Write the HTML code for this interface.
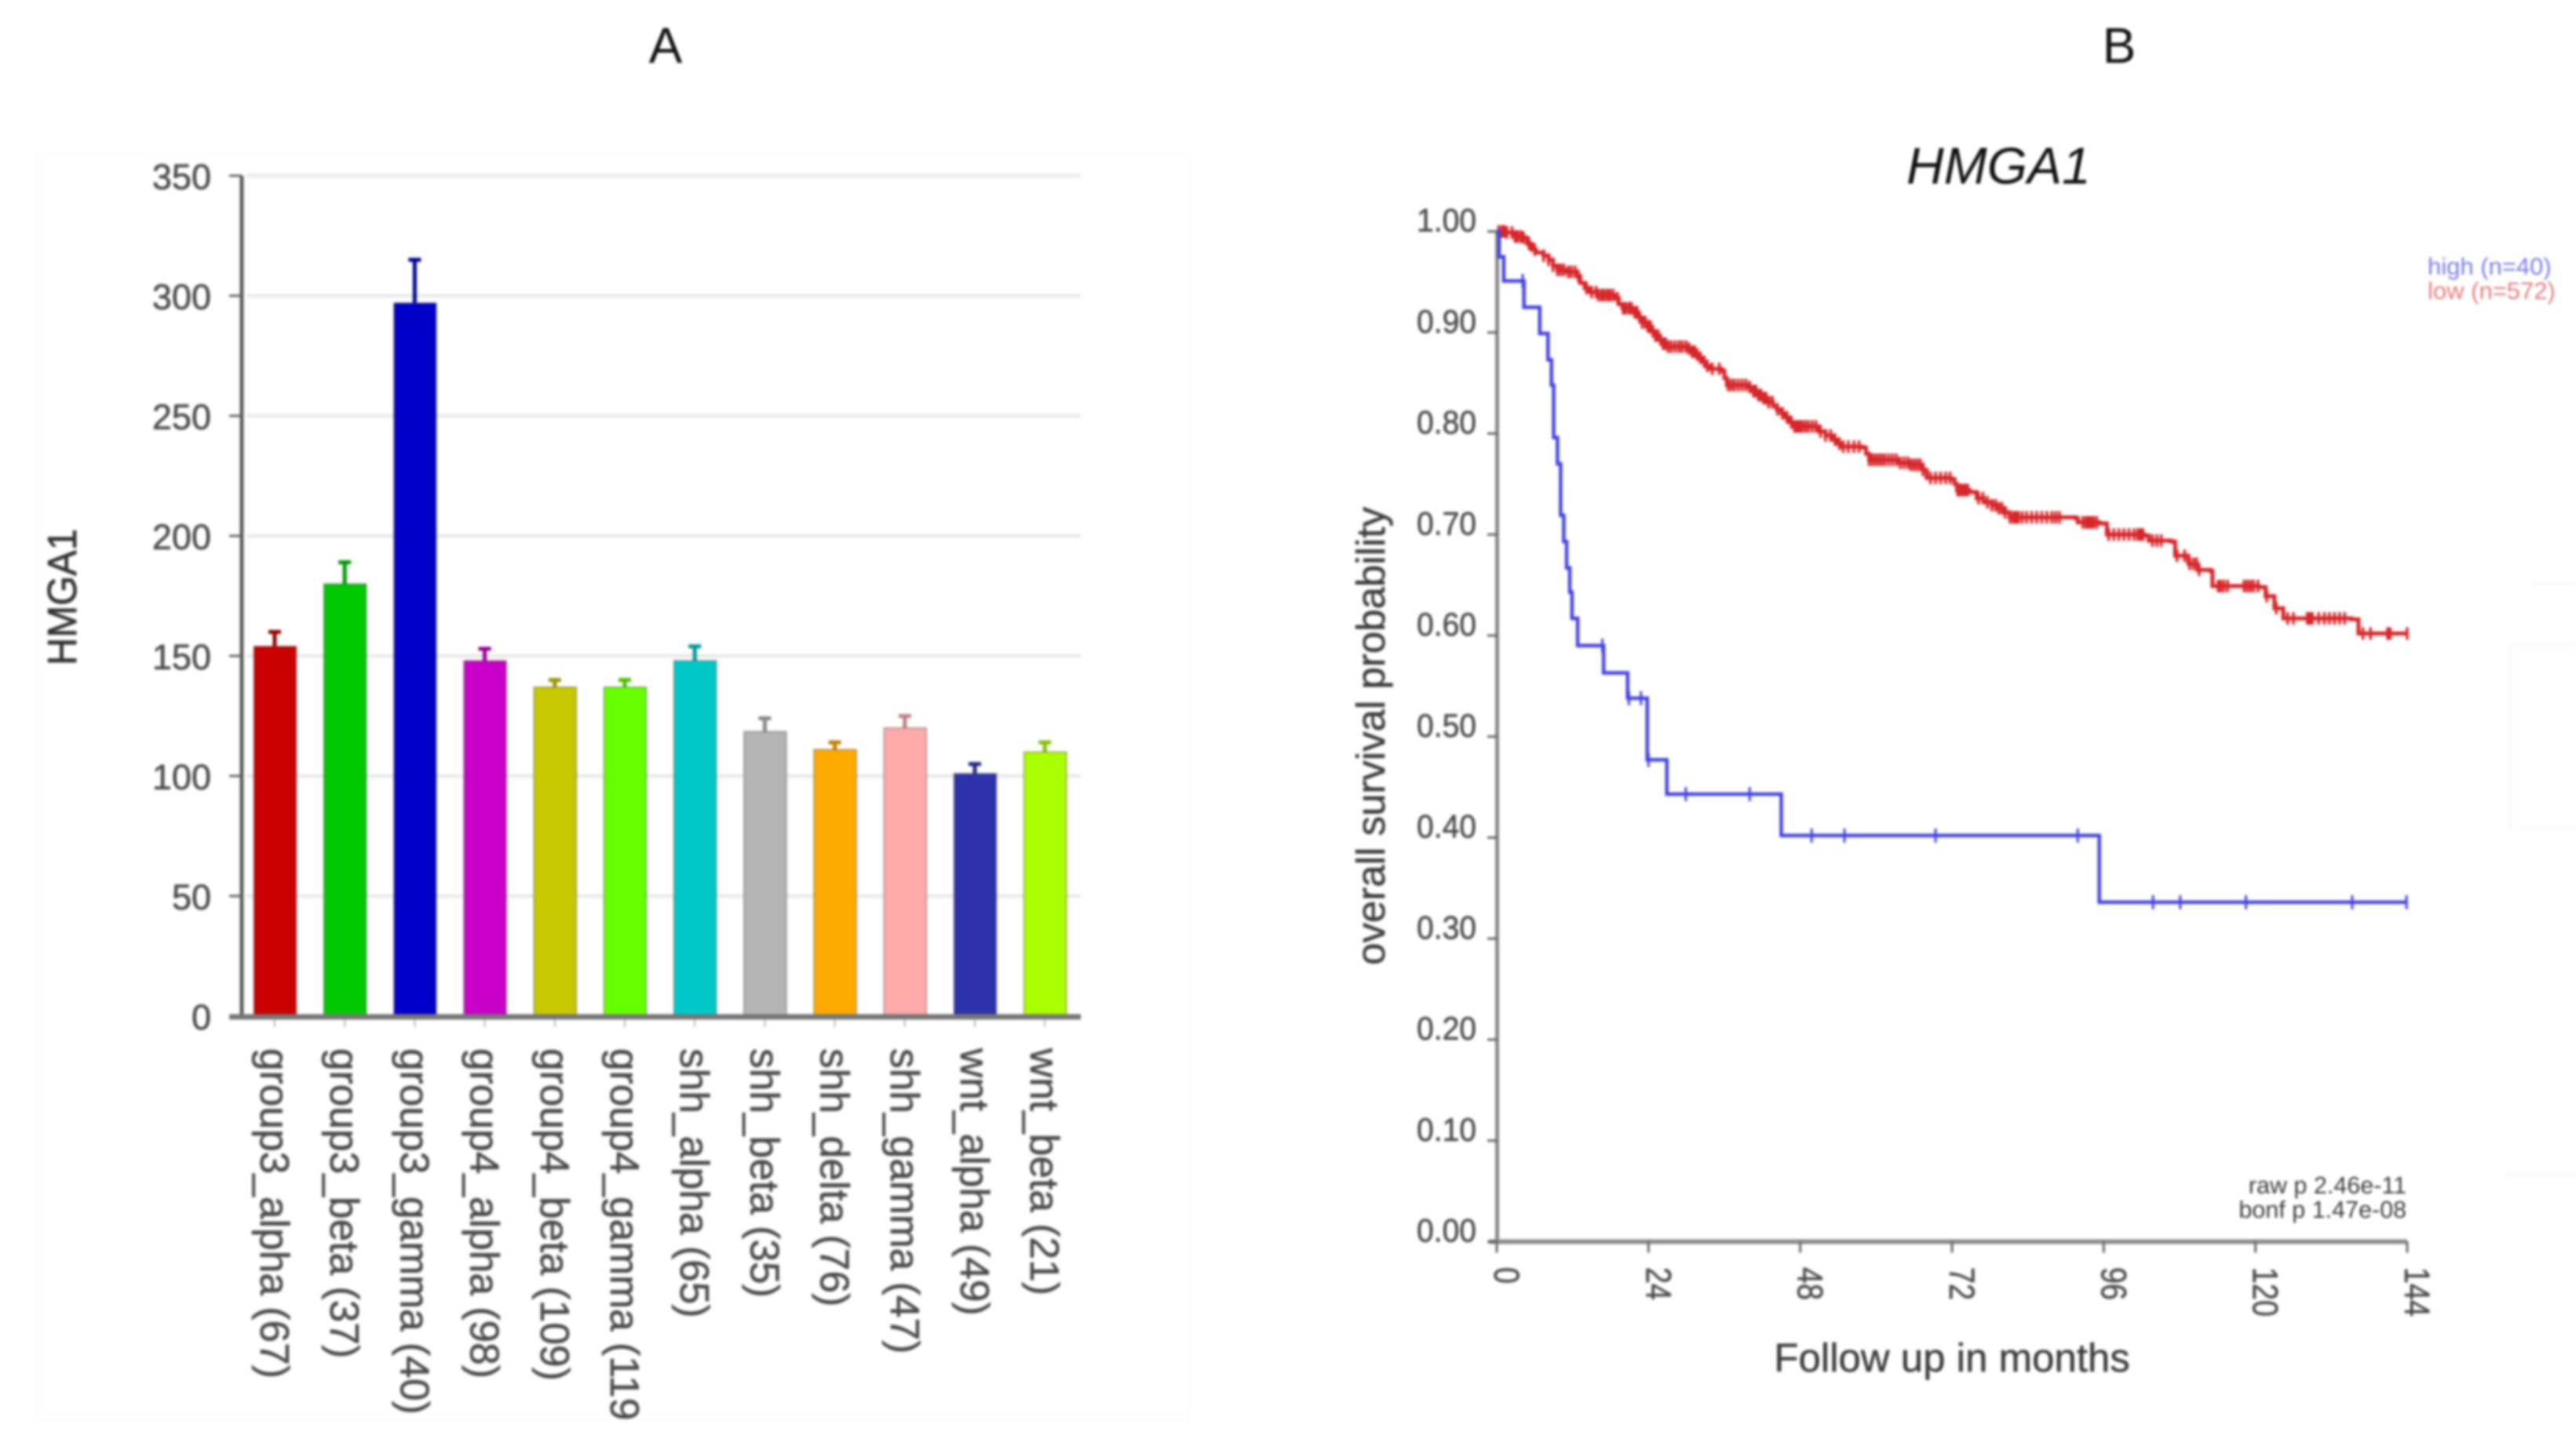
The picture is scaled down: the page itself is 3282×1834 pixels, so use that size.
<!DOCTYPE html>
<html>
<head>
<meta charset="utf-8">
<title>HMGA1 expression and survival</title>
<style>
html,body{margin:0;padding:0;background:#fff;}
#figure{display:block;width:3282px;height:1834px;filter:blur(1.6px);font-family:"Liberation Sans",sans-serif;}
</style>
</head>
<body>
<svg id="figure" xmlns="http://www.w3.org/2000/svg" width="3282" height="1834" viewBox="0 0 3282 1834">
  <rect x="0" y="0" width="3282" height="1834" fill="#ffffff"/>
  <rect x="47" y="196" width="1468" height="1613" fill="#ffffff" stroke="#fafafa" stroke-width="2"/>
  <text x="848" y="80" font-size="64" fill="#111" text-anchor="middle">A</text>
  <text x="2700" y="80" font-size="64" fill="#111" text-anchor="middle">B</text>
  <text x="2429" y="234" font-size="66" font-style="italic" fill="#111">HMGA1</text>
  <text transform="translate(97,761) rotate(-90)" font-size="52" fill="#333" stroke="#333" stroke-width="0.8" text-anchor="middle" textLength="174" lengthAdjust="spacingAndGlyphs">HMGA1</text>
  <text transform="translate(1764,938) rotate(-90)" font-size="51" fill="#3c3c3c" stroke="#3c3c3c" stroke-width="0.5" text-anchor="middle">overall survival probability</text>
  <text x="2487" y="1748" font-size="51" fill="#3c3c3c" stroke="#3c3c3c" stroke-width="0.5" text-anchor="middle">Follow up in months</text>
  <text x="3093" y="350" font-size="31" fill="#7a7ae6">high (n=40)</text>
  <text x="3093" y="381" font-size="31" fill="#e67a7a">low (n=572)</text>
  <text x="3066" y="1521" font-size="30.5" fill="#3c3c3c" text-anchor="end">raw p 2.46e-11</text>
  <text x="3066" y="1552" font-size="30.5" fill="#3c3c3c" text-anchor="end">bonf p 1.47e-08</text>
  <path d="M3282 822H3198V1057H3282" fill="none" stroke="#f7f7f7" stroke-width="2"/>
  <path d="M3228 744H3282" fill="none" stroke="#f4f4f4" stroke-width="2"/>
  <path d="M3190 1497H3282" fill="none" stroke="#f4f4f4" stroke-width="2"/>
  <g id="bar-chart"></g>
  <g id="survival-chart"></g>
</svg>
<script>
// Bar chart data
var barCategories = ["group3_alpha (67)","group3_beta (37)","group3_gamma (40)","group4_alpha (98)","group4_beta (109)","group4_gamma (119","shh_alpha (65)","shh_beta (35)","shh_delta (76)","shh_gamma (47)","wnt_alpha (49)","wnt_beta (21)"];
var barValues = [154,180,297,148,137,137,148,118.5,111,120,101,110];
var barErrorTops = [160,189,315,153,140,140,154,124,114,125,105,114];
var barColors = ["#c80000","#00c800","#0000c8","#c800c8","#c8c800","#66ff00","#00c8c8","#b4b4b4","#ffaa00","#ffaaaa","#2d32aa","#aaff00"];
var barYTicks = [0,50,100,150,200,250,300,350];

// Survival chart data
var survXTicks = [0,24,48,72,96,120,144];
var survYTicks = [0,0.1,0.2,0.3,0.4,0.5,0.6,0.7,0.8,0.9,1];
var highMonths = [0,0.37,1.1,4.3,6.8,8.1,8.65,9.0,9.6,10.1,10.6,11.05,11.55,11.9,12.8,16.9,20.7,23.8,26.9,45,95.3];
var highSurvival = [1,0.975,0.951,0.925,0.899,0.873,0.848,0.796,0.770,0.719,0.693,0.667,0.643,0.617,0.590,0.563,0.538,0.477,0.443,0.402,0.336];
var highCensorMonths = [4.1,16.7,20.9,22.8,24,29.9,40,49.8,55,69.4,91.9,103.8,108.1,118.5,135.3,143.9];
var lowMonths = [0,1.5,2.5,4.2,4.8,5.5,6.2,7.4,8.2,8.9,9.6,11,12.6,13.2,13.9,14.5,16,18.6,19.3,19.9,21.8,22.4,23,23.7,24.4,25,25.6,26.3,26.9,30,30.7,31.4,32,32.6,33.2,33.8,35.6,36,36.4,39.9,40.5,41.2,42.1,43,43.7,44.3,45,45.7,46.4,47.1,51,52,53,53.9,54.7,57.9,58.4,58.9,63.6,65.4,67.4,68,71.8,72.4,72.8,74.8,75.9,77,78.3,79.3,80.4,81.1,91.6,91.9,95.4,96.5,102.4,103.1,106.6,107.3,109.4,110.8,112.9,113.2,120.5,121.6,123,124.4,135.2,136.3];
var lowSurvival = [1,0.999,0.995,0.994,0.988,0.982,0.979,0.976,0.972,0.966,0.962,0.96,0.956,0.949,0.944,0.94,0.937,0.934,0.928,0.924,0.92,0.915,0.91,0.906,0.901,0.897,0.893,0.889,0.886,0.884,0.881,0.878,0.875,0.871,0.867,0.864,0.862,0.855,0.848,0.846,0.842,0.838,0.835,0.831,0.827,0.824,0.82,0.816,0.811,0.807,0.802,0.798,0.794,0.79,0.787,0.786,0.78,0.774,0.771,0.769,0.764,0.756,0.755,0.75,0.744,0.742,0.736,0.732,0.729,0.726,0.722,0.717,0.716,0.712,0.711,0.7,0.699,0.694,0.693,0.679,0.671,0.665,0.664,0.649,0.648,0.639,0.627,0.617,0.616,0.602];
var lowCensorMonths = [0.3,0.8,1.2,1.6,2.4,2.9,3.3,3.8,4.2,5.1,6,7.4,8.2,8.9,9.6,10.1,10.6,11.3,11.8,12.4,12.9,14.2,15,15.7,16.1,16.6,17,17.5,17.9,18.4,19.1,20,20.4,20.9,21.3,21.8,22.2,22.6,23,23.5,23.9,24.3,24.7,25.1,25.5,25.9,26.3,26.7,27.1,27.6,28.2,28.8,29.3,29.9,30.4,30.9,31.3,31.7,32.2,32.8,33.3,34.1,35.2,36.6,37.1,37.6,38.2,38.8,39.4,40,40.6,41,41.4,41.8,42.2,42.6,43,43.6,44.4,45.2,45.9,46.6,47.1,47.5,47.9,48.3,48.8,49.3,49.9,50.5,51.2,52,52.8,53.5,54.2,54.8,55.6,56.5,57.3,58.9,59.4,59.9,60.4,60.9,61.4,62,62.6,63.2,63.8,64.4,65,65.5,66,66.5,67,67.4,68.6,69.4,70.2,71,71.7,72.9,73.3,73.7,74.1,74.5,76.2,76.9,77.6,78.3,78.9,79.4,79.9,80.4,81.2,81.7,82.1,82.5,83.1,83.8,84.6,85.4,86.2,87,87.8,88.4,89,92.7,93.2,93.6,94,94.4,94.9,96.8,97.6,98.4,99.2,100,100.8,101.4,101.8,102.2,103.7,104.4,105.1,107.6,108.8,109.6,110.2,110.7,111.1,114.1,114.5,115,115.6,118.2,118.7,119.2,119.7,120.4,121.8,123.3,125.1,126,128.2,128.6,129,130,130.9,131.7,132.5,133.3,134.1,137,138.2,140.9,141.3,144];

var SVGNS = "http://www.w3.org/2000/svg";
function xBar(i){ return 350 + 89.2 * i; }
function yBar(v){ return 1295 - v * 3.06; }
function xSurv(m){ return 1907 + 8.055 * m; }
function ySurv(s){ return 1582.5 - s * 1287.5; }
function levelAt(months, levels, m){
  var r = levels[0];
  for (var i = 0; i < months.length; i++){ if (months[i] <= m) r = levels[i]; }
  return r;
}
function stepPath(months, levels, end){
  var d = "M" + xSurv(months[0]) + " " + ySurv(levels[0]);
  for (var i = 1; i < months.length; i++){
    d += "H" + xSurv(months[i]) + "V" + ySurv(levels[i]);
  }
  return d + "H" + xSurv(end);
}
function line(parent, x1, y1, x2, y2, color, width){
  var el = document.createElementNS(SVGNS, "line");
  el.setAttribute("x1", x1); el.setAttribute("y1", y1);
  el.setAttribute("x2", x2); el.setAttribute("y2", y2);
  el.setAttribute("stroke", color); el.setAttribute("stroke-width", width);
  parent.appendChild(el);
  return el;
}
function label(parent, str, size, color, anchor, transform){
  var el = document.createElementNS(SVGNS, "text");
  el.textContent = str;
  el.setAttribute("font-size", size);
  el.setAttribute("fill", color);
  el.setAttribute("stroke", color);
  el.setAttribute("stroke-width", 0.6);
  el.setAttribute("text-anchor", anchor);
  el.setAttribute("transform", transform);
  parent.appendChild(el);
  return el;
}

var barRoot = document.getElementById("bar-chart");
barYTicks.forEach(function(v){
  var y = yBar(v);
  if (v > 0) {
    var grid = line(barRoot, 314, y, 1377, y, "#ebebeb", 5);
    
    
  }
  var tick = line(barRoot, 292, y, 308, y, "#666666", 3);
  
  
  var t = label(barRoot, String(v), 45, "#4a4a4a", "end", "translate(269," + (y + 17) + ")");
  
  
});
barCategories.forEach(function(name, i){
  var cx = xBar(i);
  var tick = line(barRoot, cx, 1295, cx, 1309, "#bbbbbb", 2);
  
  
  var stem = line(barRoot, cx, yBar(barErrorTops[i]), cx, yBar(barValues[i]), barColors[i], 5);
  
  
  stem.setAttribute("style", "filter:brightness(0.75)");
  var cap = line(barRoot, cx - 8, yBar(barErrorTops[i]), cx + 8, yBar(barErrorTops[i]), barColors[i], 5);
  
  
  cap.setAttribute("style", "filter:brightness(0.75)");
  var rect = document.createElementNS(SVGNS, "rect");
  
  
  rect.setAttribute("x", cx - 26.5);
  rect.setAttribute("y", yBar(barValues[i]));
  rect.setAttribute("width", 54);
  rect.setAttribute("height", yBar(0) - yBar(barValues[i]));
  rect.setAttribute("fill", barColors[i]);
  rect.setAttribute("stroke", "rgba(60,60,60,0.35)");
  rect.setAttribute("stroke-width", 2);
  barRoot.appendChild(rect);
  var t = label(barRoot, name, 51.5, "#4a4a4a", "start", "translate(" + (cx - 18) + ",1336) rotate(90)");
  
  
});
var barYAxis = line(barRoot, 308, yBar(350), 308, 1297, "#5c5c5c", 5);


var barXAxis = line(barRoot, 292, 1296, 1377, 1296, "#777777", 7);



var survRoot = document.getElementById("survival-chart");
var survYAxis = line(survRoot, 1907.5, ySurv(1), 1907.5, ySurv(0) + 2, "#888888", 5);


var survXAxis = line(survRoot, 1897, ySurv(0), xSurv(144), ySurv(0), "#8c8c8c", 6);


survYTicks.forEach(function(v){
  var y = ySurv(v);
  var tick = line(survRoot, 1895, y, 1908, y, "#666666", 3);
  
  
  var t = label(survRoot, v.toFixed(2), 42, "#4a4a4a", "end", "translate(1881," + y + ")");
  
  
  t.setAttribute("textLength", 76);
  t.setAttribute("lengthAdjust", "spacingAndGlyphs");
});
survXTicks.forEach(function(m){
  var x = xSurv(m);
  var tick = line(survRoot, x, ySurv(0), x, ySurv(0) + 14, "#666666", 3);
  
  
  var s = String(m);
  var t = label(survRoot, s, 45, "#4a4a4a", "start", "translate(" + (x - 3) + ",1615) rotate(90)");
  
  
  t.setAttribute("textLength", s.length * 21);
  t.setAttribute("lengthAdjust", "spacingAndGlyphs");
});
var lowLine = document.createElementNS(SVGNS, "path");


lowLine.setAttribute("d", stepPath(lowMonths, lowSurvival, 144));
lowLine.setAttribute("fill", "none");
lowLine.setAttribute("stroke", "#d6262a");
lowLine.setAttribute("stroke-width", 5);
survRoot.appendChild(lowLine);
lowCensorMonths.forEach(function(m){
  var y = ySurv(levelAt(lowMonths, lowSurvival, m));
  var c = line(survRoot, xSurv(m), y - 8, xSurv(m), y + 8, "#d6262a", 3.5);
  
  
});
var highLine = document.createElementNS(SVGNS, "path");


highLine.setAttribute("d", stepPath(highMonths, highSurvival, 144));
highLine.setAttribute("fill", "none");
highLine.setAttribute("stroke", "#4242e0");
highLine.setAttribute("stroke-width", 4.5);
survRoot.appendChild(highLine);
highCensorMonths.forEach(function(m){
  var y = ySurv(levelAt(highMonths, highSurvival, m));
  var c = line(survRoot, xSurv(m), y - 9, xSurv(m), y + 9, "#4242e0", 3);
  
  
});
</script>
</body>
</html>
